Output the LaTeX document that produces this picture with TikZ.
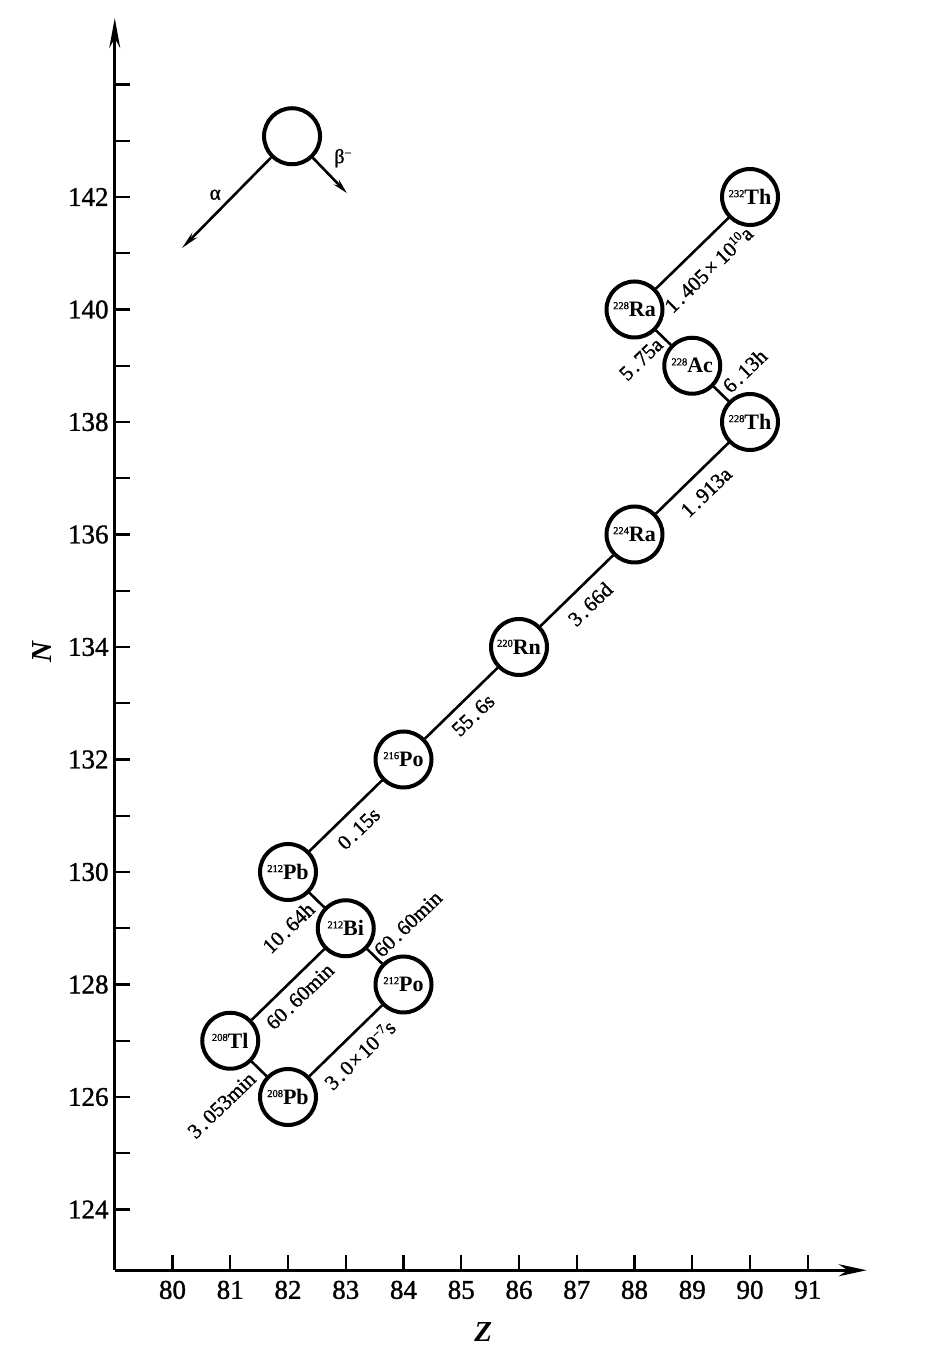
\documentclass[tikz,border=0pt]{standalone}
\usepackage{fontspec}
\setmainfont{Liberation Serif}
\newfontfamily\heavy[FakeBold=1.2]{Liberation Serif}
\usetikzlibrary{arrows.meta,calc}
\newcommand{\iso}[2]{\raisebox{7.5pt}{\fontsize{10.5}{10.5}\selectfont\heavy #1}\textbf{#2}}
\newcommand{\pd}{\kern2.5pt.\kern2.5pt}
\begin{document}
\begin{tikzpicture}[x=1pt,y=1pt,
  nuc/.style={circle, draw, line width=4pt, minimum size=56pt, inner sep=0pt, font=\fontsize{22}{22}\selectfont},
  conn/.style={line width=2.6pt},
  axisline/.style={line width=3.2pt},
  tickline/.style={line width=2.2pt},
  axnum/.style={font=\fontsize{27}{27}\selectfont\heavy, inner sep=0pt},
  dlab/.style={font=\fontsize{21}{21}\selectfont\heavy, inner sep=1pt, rotate=44},
  axtitle/.style={font=\fontsize{29}{29}\selectfont\bfseries\itshape, inner sep=0pt}
]
\useasboundingbox (0,0) rectangle (950,1358);
\begin{scope}[shift={(172.5pt,1161pt)}, x=57.75pt, y=56.25pt]
  % axes
  \coordinate (origin) at (-1,-19.08);
  \coordinate (ytop) at (-1,3.18);
  \coordinate (xend) at (12.02,-19.08);
  \draw[axisline, -{Stealth[length=30pt,width=11pt]}] (origin) -- (ytop);
  \draw[axisline, -{Stealth[length=28pt,width=12pt]}] (origin) -- (xend);
  % N ticks
  \foreach \n in {-18,...,2} \draw[tickline] (-1,\n) -- ++(15pt,0);
  \foreach \l in {124,126,...,142}
    \node[axnum, anchor=east] (nl\l) at ($(-1,\l-142)+(-6pt,0)$) {\l};
  % Z ticks
  \foreach \l in {80,...,91} {
    \draw[tickline] (\l-80,-19.08) -- ++(0,15pt);
    \node[axnum] (zl\l) at (\l-80,-19.43) {\l};
  }
  \node[axtitle, rotate=90] (Nlab) at (-2.26,-8.09) {N};
  \node[axtitle] (Zlab) at (5.38,-20.18) {Z};

  % legend
  \node[nuc] (leg) at (2.07,1.08) {};
  \coordinate (aend) at (0.165,-0.907);
  \coordinate (bend) at (3.02,0.07);
  \draw[conn, -{Stealth[length=18pt,width=7pt]}] (leg) -- (aend);
  \draw[conn, -{Stealth[length=15pt,width=7pt]}] (leg) -- (bend);
  \node[font=\fontsize{21}{21}\selectfont\heavy] (alab) at (0.74,0.04) {α};
  \node[font=\fontsize{20}{20}\selectfont\heavy] (blab) at (2.95,0.69) {β\raisebox{6pt}{\fontsize{12}{12}\selectfont −}};

  % nuclides
  \node[nuc] (th232) at (10,0) {\iso{232}{Th}};
  \node[nuc] (ra228) at (8,-2) {\iso{228}{Ra}};
  \node[nuc] (ac228) at (9,-3) {\iso{228}{Ac}};
  \node[nuc] (th228) at (10,-4) {\iso{228}{Th}};
  \node[nuc] (ra224) at (8,-6) {\iso{224}{Ra}};
  \node[nuc] (rn220) at (6,-8) {\iso{220}{Rn}};
  \node[nuc] (po216) at (4,-10) {\iso{216}{Po}};
  \node[nuc] (pb212) at (2,-12) {\iso{212}{Pb}};
  \node[nuc] (bi212) at (3,-13) {\iso{212}{Bi}};
  \node[nuc] (po212) at (4,-14) {\iso{212}{Po}};
  \node[nuc] (tl208) at (1,-15) {\iso{208}{Tl}};
  \node[nuc] (pb208) at (2,-16) {\iso{208}{Pb}};

  % connectors
  \draw[conn] (th232) -- (ra228);
  \draw[conn] (ra228) -- (ac228);
  \draw[conn] (ac228) -- (th228);
  \draw[conn] (th228) -- (ra224);
  \draw[conn] (ra224) -- (rn220);
  \draw[conn] (rn220) -- (po216);
  \draw[conn] (po216) -- (pb212);
  \draw[conn] (pb212) -- (bi212);
  \draw[conn] (bi212) -- (tl208);
  \draw[conn] (bi212) -- (po212);
  \draw[conn] (tl208) -- (pb208);
  \draw[conn] (po212) -- (pb208);

  % alpha labels
  \node[dlab] (l1) at ($(th232)!0.5!(ra228)+(16pt,-16pt)$) {1\pd 405\kern2pt×\kern4pt10\raisebox{7pt}{\fontsize{13}{13}\selectfont 10}a};
  \node[dlab] (l4) at ($(th228)!0.5!(ra224)+(14pt,-14pt)$) {1\pd 913a};
  \node[dlab] (l5) at ($(ra224)!0.5!(rn220)+(13.5pt,-13.5pt)$) {3\pd 66d};
  \node[dlab] (l6) at ($(rn220)!0.5!(po216)+(12pt,-12pt)$) {55\pd 6s};
  \node[dlab] (l7) at ($(po216)!0.5!(pb212)+(13pt,-13pt)$) {0\pd 15s};
  \node[dlab] (l9) at ($(bi212)!0.5!(tl208)+(12pt,-12pt)$) {60\pd 60min};
  \node[dlab] (l12) at ($(po212)!0.5!(pb208)+(14pt,-14pt)$) {3\pd 0\kern1pt×\kern2pt10\raisebox{7pt}{\fontsize{13}{13}\selectfont −7}s};

  % beta labels
  \node[dlab, anchor=east] (l2) at ($(ra228)!0.5!(ac228)+(-3pt,-3pt)$) {5\pd 75a};
  \node[dlab, anchor=west] (l3) at ($(ac228)!0.5!(th228)+(4pt,4pt)$) {6\pd 13h};
  \node[dlab, anchor=east] (l8) at ($(pb212)!0.5!(bi212)+(-5pt,-5pt)$) {10\pd 64h};
  \node[dlab, anchor=west] (l10) at ($(bi212)!0.5!(po212)+(2pt,2pt)$) {60\pd 60min};
  \node[dlab, anchor=east] (l11) at ($(tl208)!0.5!(pb208)+(-6pt,-6pt)$) {3\pd 053min};
\end{scope}
\end{tikzpicture}
\end{document}
